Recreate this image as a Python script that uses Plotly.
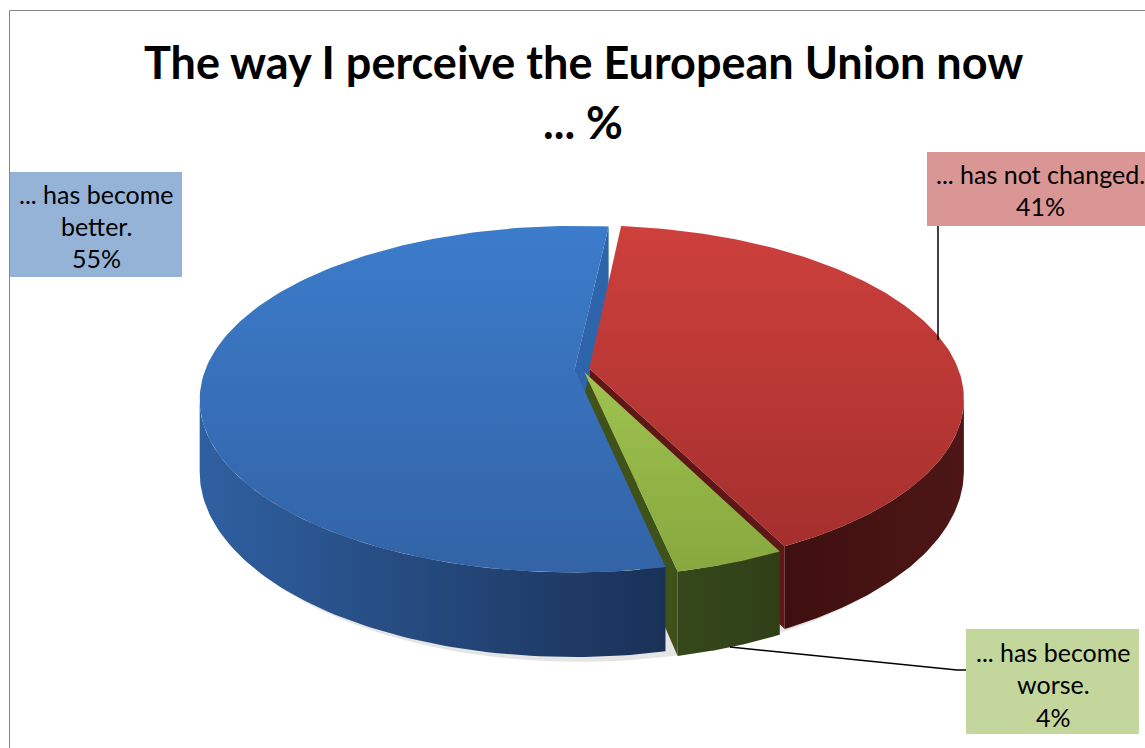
import numpy as np
import plotly.graph_objects as go

# ---------------- data ----------------
categories = ["... has not changed.", "... has become worse.", "... has become better."]
values = [41, 4, 55]
label_lines = [["... has not changed."], ["... has become", "worse."], ["... has become", "better."]]
title_lines = ["The way I perceive the European Union now", "... %"]

# ---------------- styles ----------------
top_colors = [("#CD403C", "#A52F2D"), ("#A0C24F", "#86A83E"), ("#3C7CCB", "#3263A6")]
wall_colors = [("#3E0F0F", "#4E1616"), ("#35481B", "#2F4017"), ("#2F60A1", "#1A3157")]
cut_colors = ["#5E1616", "#3F521A", "#2E64A9"]
box_colors = ["#D99694", "#C3D69B", "#95B3D7"]
# label box extents (x0, x1, y0, y1) in page pixels and line centres
boxes = [(927, 1150, 152, 226), (966, 1139, 629, 734), (10, 182, 172, 277)]
line_y = [[174, 206], [652, 684, 717], [194, 226, 258]]
line_x = [1040, 1053, 96]
leaders = [([938, 938], [226, 340]), ([730, 957, 966], [647, 670, 670]), None]

W, H = 1145, 748
CX, CY = 582, 369
SX, SY = 369, 168
K = 0.173
DEPTH = 70
EXPLODE = 0.02
START = 6.0
FONT = "Lato"


def proj(X, Z, h):
    w = 1 + K * Z
    return CX + SX * X / w, CY - SY * Z / w + h * DEPTH / w


fig = go.Figure()


def poly(xs, ys, c1=None, c2=None, gtype="vertical", color=None, opacity=1.0):
    xs = list(xs) + [xs[0]]
    ys = list(ys) + [ys[0]]
    kw = dict(x=xs, y=ys, mode="lines", fill="toself", line=dict(width=0),
              hoverinfo="skip", showlegend=False, opacity=opacity)
    if color is not None:
        kw["fillcolor"] = color
    else:
        vals = xs if gtype == "horizontal" else ys
        kw["fillgradient"] = dict(type=gtype, colorscale=[[0, c1], [1, c2]],
                                  start=min(vals), stop=max(vals))
    fig.add_trace(go.Scatter(**kw))


total = float(sum(values))
slices = []
acc = START
for i, v in enumerate(values):
    span = 360.0 * v / total
    ts, te = acc, acc + span
    acc = te
    b = np.radians((ts + te) / 2)
    ox, oz = EXPLODE * np.sin(b), EXPLODE * np.cos(b)
    slices.append((i, ts, te, ox, oz))

# shadow
th = np.radians(np.linspace(0, 360, 200))
sx, sy = proj(np.sin(th), np.cos(th), 1.0)
poly(sx - 2, sy + 5, color="rgba(0,0,0,0.10)")

# radial cut faces
for i, ts, te, ox, oz in slices:
    for ang, vis in ((te, np.sin(np.radians(te)) > 0), (ts, np.sin(np.radians(ts)) < 0)):
        if not vis:
            continue
        a = np.radians(ang)
        px = [ox, ox + np.sin(a), ox + np.sin(a), ox]
        pz = [oz, oz + np.cos(a), oz + np.cos(a), oz]
        ph = [0, 0, 1, 1]
        xs, ys = zip(*[proj(x, z, h) for x, z, h in zip(px, pz, ph)])
        poly(xs, ys, color=cut_colors[i])

# outer walls
ta = np.degrees(np.arccos(-K))
tb = 360 - ta
for i, ts, te, ox, oz in slices:
    a, b = max(ts, ta), min(te, tb)
    if b <= a:
        continue
    t = np.radians(np.linspace(a, b, 80))
    x0, y0 = proj(ox + np.sin(t), oz + np.cos(t), 0)
    x1, y1 = proj(ox + np.sin(t), oz + np.cos(t), 1)
    xs = np.concatenate([x0, x1[::-1]])
    ys = np.concatenate([y0, y1[::-1]])
    poly(xs, ys, wall_colors[i][0], wall_colors[i][1], gtype="horizontal")

# top faces
for i, ts, te, ox, oz in slices:
    t = np.radians(np.linspace(ts, te, 160))
    xa, ya = proj(ox + np.sin(t), oz + np.cos(t), 0)
    cx0, cy0 = proj(ox, oz, 0)
    xs = np.concatenate([[cx0], xa])
    ys = np.concatenate([[cy0], ya])
    poly(xs, ys, top_colors[i][0], top_colors[i][1], gtype="vertical")

# label boxes, leaders, texts
shapes = [dict(type="rect", xref="x", yref="y", x0=9.5, x1=1160, y0=10.5, y1=760,
               line=dict(color="#868686", width=1), fillcolor="rgba(0,0,0,0)")]
annotations = []
for i, cat in enumerate(categories):
    x0, x1, y0, y1 = boxes[i]
    shapes.append(dict(type="rect", xref="x", yref="y", x0=x0, x1=x1, y0=y0, y1=y1,
                       line=dict(width=0), fillcolor=box_colors[i], layer="below"))
    if leaders[i] is not None:
        fig.add_trace(go.Scatter(x=leaders[i][0], y=leaders[i][1], mode="lines",
                                 line=dict(color="black", width=1.5),
                                 hoverinfo="skip", showlegend=False))
    lines = label_lines[i] + [f"{values[i]}%"]
    for txt, yy in zip(lines, line_y[i]):
        annotations.append(dict(x=line_x[i], y=yy, xref="x", yref="y", text=txt,
                                showarrow=False, xanchor="center", yanchor="middle",
                                font=dict(family=FONT, size=25, color="black")))

for txt, yy in zip(title_lines, [62, 122]):
    annotations.append(dict(x=583, y=yy, xref="x", yref="y", text=f"<b>{txt}</b>",
                            showarrow=False, xanchor="center", yanchor="middle",
                            font=dict(family=FONT, size=45, color="black")))

fig.update_layout(
    width=W, height=H, margin=dict(l=0, r=0, t=0, b=0),
    paper_bgcolor="white", plot_bgcolor="white",
    xaxis=dict(range=[0, W], visible=False, fixedrange=True),
    yaxis=dict(range=[H, 0], visible=False, fixedrange=True),
    shapes=shapes, annotations=annotations, showlegend=False,
)
fig.write_html("out.html")
